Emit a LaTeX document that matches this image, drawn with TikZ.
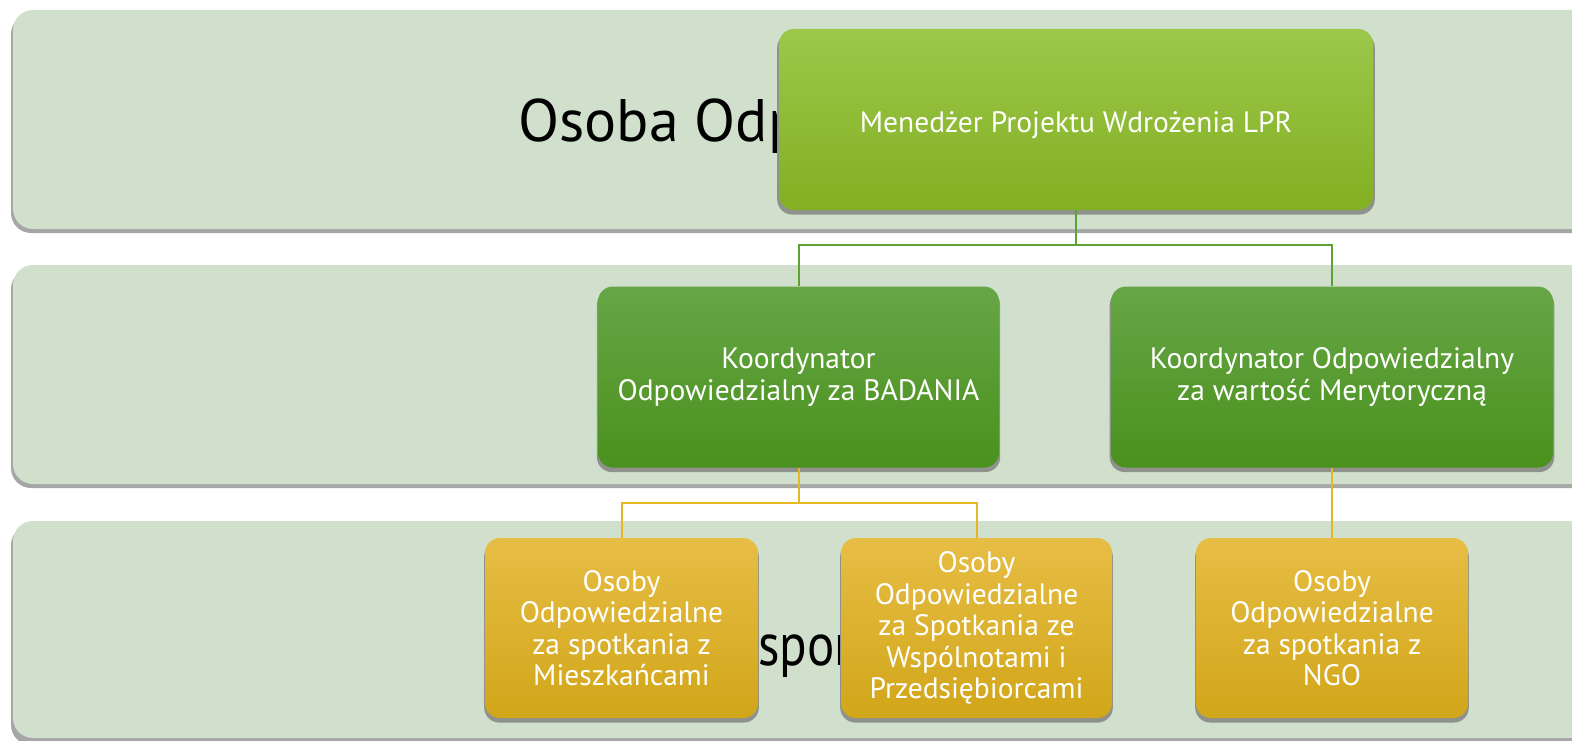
\documentclass[tikz,border=0pt]{standalone}
\usepackage{fontspec}
\setmainfont{PT Sans}
\usetikzlibrary{shadows}
\definecolor{bandfill}{HTML}{D1E0CD}
\definecolor{bandshade}{HTML}{A6A6A6}
\definecolor{boxshade}{HTML}{8E918C}
\definecolor{mgrtop}{HTML}{9BC84A}
\definecolor{mgrbot}{HTML}{83AF22}
\definecolor{kortop}{HTML}{66A646}
\definecolor{korbot}{HTML}{4A911D}
\definecolor{ostop}{HTML}{E7BD45}
\definecolor{osbot}{HTML}{D1A619}
\definecolor{gline}{HTML}{5DA332}
\definecolor{yline}{HTML}{E4B724}

\begin{document}
\begin{tikzpicture}[x=1pt,y=-1pt,
  band/.style={rounded corners=20pt},
  bandtext/.style={anchor=west,inner sep=0pt,font=\fontsize{60}{68}\selectfont},
  box/.style={rectangle,rounded corners=15pt,inner sep=0pt,align=center,text=white,
    font=\fontsize{29.5}{31.5}\selectfont,
    drop shadow={shadow xshift=0pt,shadow yshift=-4pt,shadow scale=1.006,fill=boxshade,opacity=1}},
  mgrbox/.style={box,top color=mgrtop,bottom color=mgrbot},
  korbox/.style={box,top color=kortop,bottom color=korbot},
  osbox/.style={box,top color=ostop,bottom color=osbot,minimum height=180pt},
  glink/.style={draw=gline,line width=2pt},
  ylink/.style={draw=yline,line width=2pt}]
\useasboundingbox (0,0) rectangle (1572,741);
\clip (0,0) rectangle (1572,741);

\fill[band,bandshade] (11,14) rectangle (1620,233);
\fill[band,bandfill] (13,10) rectangle (1620,229);
\fill[band,bandshade] (11,269) rectangle (1620,488);
\fill[band,bandfill] (13,265) rectangle (1620,484);
\fill[band,bandshade] (11,525) rectangle (1620,745);
\fill[band,bandfill] (13,521) rectangle (1620,738);

\node[bandtext] (lab1) at (518,126) {Osoba Odp};
\node[bandtext] (lab3) at (758,656) {\scalebox{0.85}[1]{spor}};

\node[mgrbox,minimum width=594pt,minimum height=181pt,text height=33pt] (mgr) at (1076,119.5) {Menedżer Projektu Wdrożenia LPR};

\node[korbox,minimum width=401pt,minimum height=181pt] (kbad) at (798.5,377) {Koordynator\\Odpowiedzialny za BADANIA};
\node[korbox,minimum width=442pt,minimum height=181pt] (kmer) at (1332,377) {Koordynator Odpowiedzialny\\za wartość Merytoryczną};

\node[osbox,minimum width=273pt] (osmie) at (621.5,628) {Osoby\\Odpowiedzialne\\za spotkania z\\Mieszkańcami};
\node[osbox,minimum width=271pt] (oswsp) at (976.5,628) {Osoby\\Odpowiedzialne\\za Spotkania ze\\Wspólnotami i\\Przedsiębiorcami};
\node[osbox,minimum width=272pt] (osngo) at (1332,628) {Osoby\\Odpowiedzialne\\za spotkania z\\NGO};

\draw[glink] (mgr.south) -- ++(0,35) -| (kbad.north);
\draw[glink] (mgr.south) -- ++(0,35) -| (kmer.north);
\draw[ylink] (kbad.south) -- ++(0,35) -| (osmie.north);
\draw[ylink] (kbad.south) -- ++(0,35) -| (oswsp.north);
\draw[ylink] (kmer.south) -- (osngo.north);
\end{tikzpicture}
\end{document}
